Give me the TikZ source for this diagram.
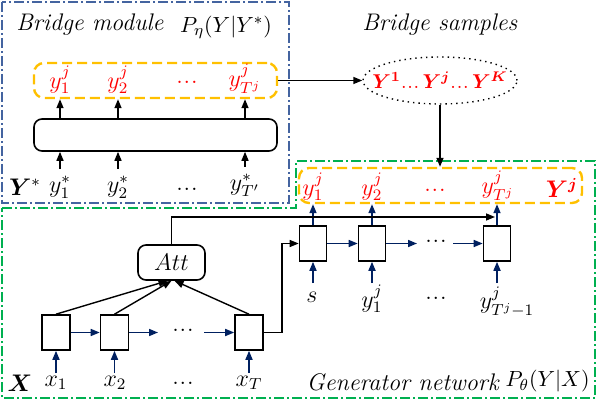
\documentclass[tikz,border=0pt]{standalone}
\usepackage{bm}
\usetikzlibrary{arrows.meta,shapes.geometric}
\definecolor{bmblue}{RGB}{68,100,160}
\definecolor{gengreen}{RGB}{0,176,80}
\definecolor{seqorange}{RGB}{255,192,0}
\definecolor{rnnnavy}{RGB}{0,32,96}
\newcommand{\sdots}{\mbox{.\kern0.4pt.\kern0.4pt.}}

\begin{document}
\begin{tikzpicture}
[x=0.5pt, y=-0.5pt, font=\fontsize{12}{14}\selectfont,
frame/.style={line width=0.8pt, dash pattern=on 5pt off 1.5pt on 1pt off 1.5pt},
seqbox/.style={draw=seqorange, line width=1.2pt, dash pattern=on 5pt off 2.5pt, rounded corners=5pt, minimum height=17.5pt, inner sep=0pt},
cell/.style={draw, line width=0.8pt, minimum width=13.5pt, minimum height=17.5pt, inner sep=0pt},
barr/.style={line width=0.7pt, -{Triangle[length=4.5pt,width=3.5pt]}},
narr/.style={rnnnavy, line width=0.8pt, -{Triangle[length=4.5pt,width=3.5pt]}},
redlbl/.style={text=red},
problbl/.style={inner sep=0pt, font=\fontsize{11}{13}\selectfont}]

\useasboundingbox (0,0) rectangle (598,400);

% frames
\draw[bmblue,frame] (2,2) rectangle (289,203);
\draw[gengreen,frame] (2,208) -- (296,208) -- (296,161) -- (595,161) -- (595,398) -- (2,398) -- cycle;

% bridge module
\node[anchor=west, inner sep=0pt] (bmtitle) at (16,25) {\textit{Bridge module}};
\node[problbl] (bmprob) at (226,27) {$P_\eta(Y|Y^*)$};
\node[seqbox, minimum width=121.5pt] (bout) at (155.5,80.5) {};
\node[cell, rounded corners=4pt, minimum width=121.5pt, minimum height=16pt] (bnet) at (155.5,135) {};
\node[redlbl] (by1) at (60,80) {$y_1^j$};
\node[redlbl] (by2) at (118,80) {$y_2^j$};
\node[redlbl] (bdots) at (187,82) {\sdots};
\node[redlbl] (byT) at (245,79) {$y_{T^j}^j$};
\node (Ystar) at (25,187) {$\bm{Y}^*$};
\node (ys1) at (60,187) {$y_1^*$};
\node (ys2) at (118,187) {$y_2^*$};
\node (ysd) at (187,189) {\sdots};
\node (ysT) at (245,185) {$y_{T'}^*$};
\foreach \i in {1,2,T}{
\draw[barr] (ys\i.north) -- (ys\i |- bnet.south);
\draw[barr] (bnet.north -| by\i) -- (bout.south -| by\i);
}

% bridge samples
\node (bstitle) at (440,25) {\textit{Bridge samples}};
\node[ellipse, draw, dotted, line width=0.7pt, minimum width=77pt, minimum height=23.5pt, inner sep=-12pt, redlbl, font=\fontsize{10}{12}\selectfont] (samples) at (440,80.5) {$\bm{Y^1}$\sdots$\,\bm{Y^j}$\sdots$\,\bm{Y^K}$};
\draw[barr] (bout.east) -- (samples.west);

% generator network
\node[seqbox, minimum width=141.5pt] (gout) at (440.5,185.5) {};
\draw[barr] (samples.south) -- (gout.north -| samples);
\node[redlbl] (gy1) at (313,187) {$y_1^j$};
\node[redlbl] (gy2) at (372,187) {$y_2^j$};
\node[redlbl] (gdots) at (435,190) {\sdots};
\node[redlbl] (gyT) at (498,186) {$y_{T^j}^j$};
\node[redlbl] (gY) at (562,188) {$\bm{Y^j}$};

% decoder
\node[cell] (dec1) at (313,243.5) {};
\node[cell] (dec2) at (372,243.5) {};
\node[cell] (dec3) at (497,243.5) {};
\node (ddots) at (436,241) {\sdots};
\coordinate (dgap1) at (417,243.5);
\coordinate (dgap2) at (453,243.5);
\draw[narr] (dec1.east) -- (dec2.west);
\draw[narr] (dec2.east) -- (dgap1);
\draw[narr] (dgap2) -- (dec3.west);
\foreach \c in {dec1,dec2,dec3}
\draw[narr] (\c.north) -- (gout.south -| \c);
\node (s) at (312,297) {$s$};
\node (dy1) at (372,299) {$y_1^j$};
\node (dyd) at (436,298) {\sdots};
\node (dyT) at (507,302) {$y_{T^j-1}^j$};
\draw[narr] (dec1 |- 0,283) -- (dec1.south);
\draw[narr] (dec2 |- 0,283) -- (dec2.south);
\draw[narr] (dec3 |- 0,283) -- (dec3.south);

% encoder
\node[cell, minimum width=14pt] (enc1) at (56,332.5) {};
\node[cell, minimum width=14pt] (enc2) at (114.5,332.5) {};
\node[cell, minimum width=14pt] (enc3) at (249,332.5) {};
\node (edots) at (183,330) {\sdots};
\coordinate (egap1) at (158,332.5);
\coordinate (egap2) at (204,332.5);
\draw[narr] (enc1.east) -- (enc2.west);
\draw[narr] (enc2.east) -- (egap1);
\draw[narr] (egap2) -- (enc3.west);
\draw[barr] (enc3.east) -- ++(18,0) |- (dec1.west);

\node[cell, rounded corners=4pt, minimum width=33.5pt] (att) at (171.5,262.5) {\large$Att$};
\draw[barr] (enc1.north) -- ([xshift=-2pt]att.south);
\draw[barr] (enc2.north) -- (att.south);
\draw[barr] (enc3.north) -- ([xshift=1.5pt]att.south);
\coordinate (ctx) at (495,217);
\draw[barr] (att.north) |- (ctx);

\node (Xin) at (20,383) {$\bm{X}$};
\node (x1) at (56,383) {$x_1$};
\node (x2) at (115,383) {$x_2$};
\node (xd) at (183,383) {\sdots};
\node (xT) at (249,383) {$x_T$};
\draw[narr] (enc1 |- 0,373) -- (enc1.south);
\draw[narr] (enc2 |- 0,373) -- (enc2.south);
\draw[narr] (enc3 |- 0,373) -- (enc3.south);

\node[anchor=east, inner sep=0pt] (gentitle) at (500,382) {\textit{Generator network}};
\node[problbl, anchor=east] (genprob) at (590,381) {$P_\theta(Y|X)$};
\end{tikzpicture}
\end{document}
